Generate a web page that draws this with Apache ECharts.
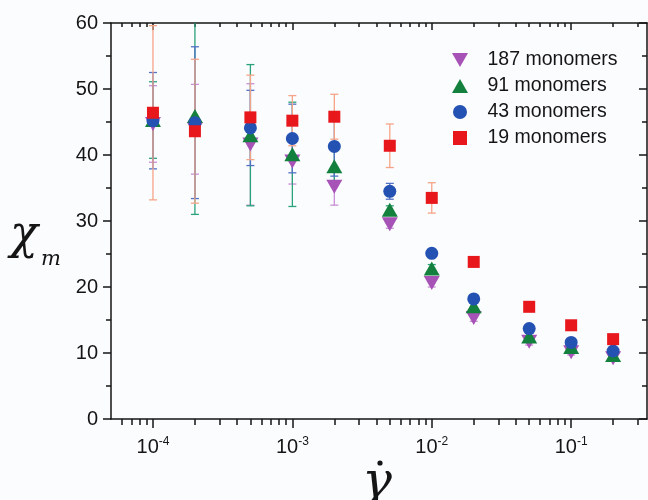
<!DOCTYPE html>
<html>
<head>
<meta charset="utf-8">
<script src="https://cdn.jsdelivr.net/npm/echarts@6/dist/echarts.min.js"></script>
<style>
html,body{margin:0;padding:0;background:#fbfcfe;}
#main{width:648px;height:500px;}
</style>
</head>
<body>
<div id="main"></div>
<script>
// shear rates (x) and chi_m values
var rates = [1e-4, 2e-4, 5e-4, 1e-3, 2e-3, 5e-3, 1e-2, 2e-2, 5e-2, 1e-1, 2e-1];

var chi187 = [44.7, 43.9, 41.6, 39.0, 35.2, 29.5, 20.6, 15.3, 11.7, 10.1, 9.2];
var err187 = [5.8, 6.8, 9.2, 3.4, 2.8, 0.6, 0.6, 0.5, 0.5, 0.4, 0.4];

var chi91 = [45.3, 45.9, 43.0, 40.1, 38.3, 31.7, 22.8, 17.1, 12.5, 10.9, 9.7];
var err91 = [5.8, 14.9, 10.7, 7.9, 2.7, 0.6, 0.6, 0.5, 0.5, 0.4, 0.4];

var chi43 = [45.2, 44.9, 44.1, 42.5, 41.3, 34.5, 25.1, 18.2, 13.7, 11.6, 10.3];
var err43 = [7.3, 11.5, 5.7, 5.2, 4.5, 1.2, 0.6, 0.5, 0.5, 0.4, 0.4];

var chi19 = [46.4, 43.6, 45.7, 45.2, 45.8, 41.4, 33.5, 23.8, 17.0, 14.2, 12.1];
var err19 = [13.2, 10.9, 6.4, 3.8, 3.4, 3.3, 2.3, 0.5, 0.5, 0.4, 0.4];

var seriesNames = ['187 monomers', '91 monomers', '43 monomers', '19 monomers'];

var majorTicks = [1e-4, 1e-3, 1e-2, 1e-1];
var minorTicks = [6e-5, 7e-5, 8e-5, 9e-5,
  2e-4, 3e-4, 4e-4, 5e-4, 6e-4, 7e-4, 8e-4, 9e-4,
  2e-3, 3e-3, 4e-3, 5e-3, 6e-3, 7e-3, 8e-3, 9e-3,
  2e-2, 3e-2, 4e-2, 5e-2, 6e-2, 7e-2, 8e-2, 9e-2,
  0.2, 0.3];
var xMin = 5e-5, xMax = 0.35;
var yMin = 0, yMax = 60, yStep = 10;

var SANS = '"Liberation Sans", Arial, sans-serif';
var SERIF = '"DejaVu Serif", "Liberation Serif", serif';
var INK = '#151515';

var downTri = 'path://M0,0L16,0L8,14Z';
var upTri = 'path://M8,0L16,14L0,14Z';
var square = 'path://M0,0L10,0L10,10L0,10Z';

function lg(v) { return Math.log10(v); }

function toPoints(ys) {
  return rates.map(function (r, i) { return [lg(r), ys[i]]; });
}
function toBars(ys, es) {
  return rates.map(function (r, i) { return [lg(r), ys[i] - es[i], ys[i] + es[i]]; });
}

// error bar drawn from the axis scales
function errRender(color) {
  return function (params, api) {
    var x = api.value(0);
    var top = api.coord([x, api.value(2)]);
    var bot = api.coord([x, api.value(1)]);
    var w = 4;
    var st = { stroke: color, lineWidth: 1.3 };
    return {
      type: 'group',
      children: [
        { type: 'line', shape: { x1: top[0], y1: top[1], x2: bot[0], y2: bot[1] }, style: st },
        { type: 'line', shape: { x1: top[0] - w, y1: top[1], x2: top[0] + w, y2: top[1] }, style: st },
        { type: 'line', shape: { x1: bot[0] - w, y1: bot[1], x2: bot[0] + w, y2: bot[1] }, style: st }
      ]
    };
  };
}

function errSeries(ys, es, color) {
  return {
    type: 'custom',
    xAxisIndex: 0, yAxisIndex: 0,
    clip: true,
    silent: true,
    renderItem: errRender(color),
    encode: { x: 0, y: [1, 2] },
    data: toBars(ys, es),
    z: 2
  };
}

function dotSeries(name, ys, symbol, size, color) {
  return {
    name: name,
    type: 'scatter',
    xAxisIndex: 0, yAxisIndex: 0,
    symbol: symbol,
    symbolSize: size,
    itemStyle: { color: color, opacity: 1 },
    data: toPoints(ys),
    z: 3
  };
}

var lineStyle = { color: INK, width: 1.5 };

function xAxisDef(grid, pos, ticks, len, inside, labels) {
  return {
    type: 'value', gridIndex: grid, position: pos,
    min: lg(xMin), max: lg(xMax),
    splitLine: { show: false },
    axisLine: { show: grid === 0, onZero: false, lineStyle: lineStyle },
    axisTick: { show: true, inside: inside, length: len, customValues: ticks.map(lg), lineStyle: lineStyle },
    axisLabel: labels ? {
      show: true,
      customValues: ticks.map(lg),
      margin: 17,
      formatter: function (v) { return '{b|10}{s|' + Math.round(v) + '}'; },
      rich: {
        b: { fontSize: 20, fontFamily: SANS, color: INK, lineHeight: 22 },
        s: { fontSize: 12, fontFamily: SANS, color: INK, lineHeight: 12, verticalAlign: 'top' }
      }
    } : { show: false }
  };
}

function yAxisDef(grid, pos, inside, labels) {
  return {
    type: 'value', gridIndex: grid, position: pos,
    show: grid === 0,
    min: yMin, max: yMax, interval: yStep,
    splitLine: { show: false },
    axisLine: { show: true, onZero: false, lineStyle: lineStyle },
    axisTick: { show: true, inside: inside, length: 8, lineStyle: lineStyle },
    minorTick: { show: true, splitNumber: 2, length: 5, lineStyle: lineStyle },
    axisLabel: labels ? { show: true, margin: 13, fontSize: 20, fontFamily: SANS, color: INK } : { show: false }
  };
}

var gridBox = { left: 111, right: 1, top: 23, bottom: 81 };

var option = {
  backgroundColor: '#fbfcfe',
  animation: false,
  grid: [
    Object.assign({}, gridBox),
    Object.assign({}, gridBox)
  ],
  xAxis: [
    xAxisDef(0, 'bottom', majorTicks, 9, false, true),
    xAxisDef(0, 'top', majorTicks, 7, true, false),
    xAxisDef(1, 'bottom', minorTicks, 6, false, false),
    xAxisDef(1, 'top', minorTicks, 4, true, false)
  ],
  yAxis: [
    yAxisDef(0, 'left', false, true),
    yAxisDef(0, 'right', true, false),
    yAxisDef(1, 'left', false, false)
  ],
  legend: {
    orient: 'vertical',
    left: 447,
    top: 45,
    itemWidth: 45,
    itemHeight: 14,
    itemGap: 6,
    symbolKeepAspect: true,
    textStyle: { fontSize: 19.5, fontFamily: SANS, color: INK, lineHeight: 20 },
    data: [
      { name: seriesNames[0], icon: downTri },
      { name: seriesNames[1], icon: upTri },
      { name: seriesNames[2], icon: 'circle' },
      { name: seriesNames[3], icon: square }
    ]
  },
  graphic: [
    { type: 'text', left: 10, top: 213, style: { text: '\u03c7', fontSize: 46, fontStyle: 'italic', fontFamily: SERIF, fill: INK } },
    { type: 'text', left: 41, top: 249, style: { text: 'm', fontSize: 21, fontStyle: 'italic', fontFamily: SERIF, fill: INK } },
    { type: 'text', left: 362, top: 459, style: { text: '\u03b3', fontSize: 50, fontStyle: 'italic', fontFamily: SERIF, fill: INK } },
    { type: 'circle', shape: { cx: 380, cy: 463, r: 2.6 }, style: { fill: INK } }
  ],
  series: [
    errSeries(chi187, err187, '#c98fd6'),
    errSeries(chi91, err91, '#2aa37a'),
    errSeries(chi43, err43, '#5272c6'),
    errSeries(chi19, err19, '#f5a487'),
    dotSeries(seriesNames[0], chi187, downTri, [16, 14], '#a652b6'),
    dotSeries(seriesNames[1], chi91, upTri, [16, 14], '#14803e'),
    dotSeries(seriesNames[2], chi43, 'circle', 13, '#2452b2'),
    dotSeries(seriesNames[3], chi19, square, 12, '#e8171b')
  ]
};

var chart = echarts.init(document.getElementById('main'));
chart.setOption(option);
</script>
</body>
</html>
